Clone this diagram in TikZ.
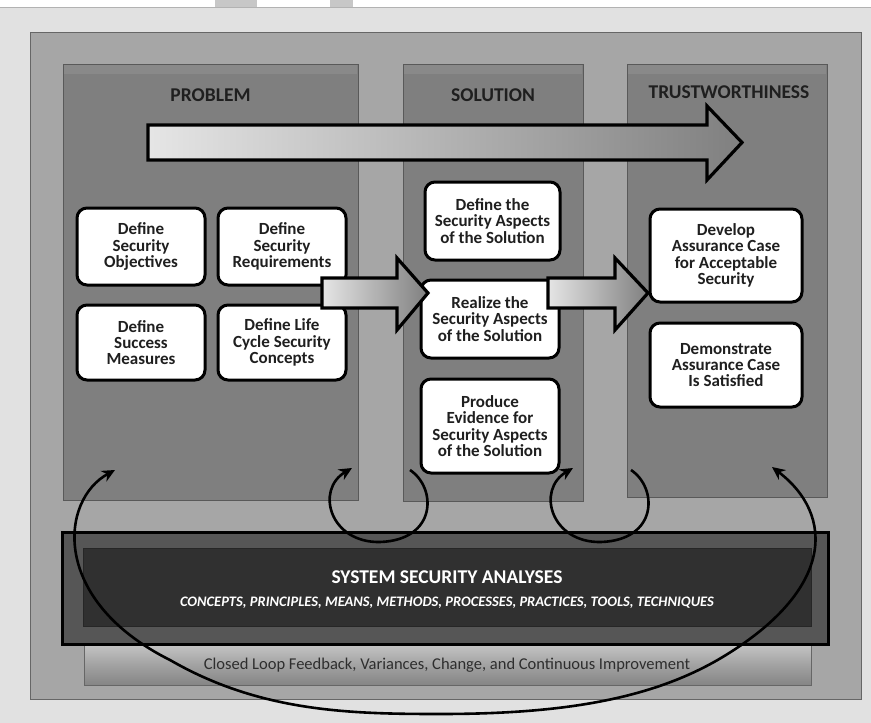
\documentclass[tikz,border=0pt]{standalone}
\usepackage{fontspec}
\setmainfont{Carlito}
\usetikzlibrary{arrows.meta}
\begin{document}
\begin{tikzpicture}[x=1pt,y=-1pt,
  column/.style={fill=colgray, draw=black!65, line width=0.8pt},
  heading/.style={font=\bfseries\fontsize{19.5}{21}\selectfont, text=black!88},
  stepbox/.style={draw=black, line width=3pt, fill=white, rounded corners=10pt,
    align=center, inner sep=1pt, text=black!88,
    font=\bfseries\fontsize{17}{16.3}\selectfont},
  blockarrow/.style={draw=black, line width=3.2pt, line join=miter,
    left color=black!10, right color=black!50},
  loop/.style={draw=black, line width=2.6pt, -{Stealth[length=13pt,width=12pt]}},
  bothloop/.style={draw=black, line width=2.6pt,
    {Stealth[length=13pt,width=12pt]}-{Stealth[length=13pt,width=12pt]}},
]
\definecolor{pagegray}{RGB}{225,225,225}
\definecolor{panelgray}{RGB}{166,166,166}
\definecolor{colgray}{RGB}{127,127,127}
\definecolor{bandgray}{RGB}{86,86,86}
\definecolor{innergray}{RGB}{48,48,48}

\useasboundingbox (0,0) rectangle (871,723);
\fill[pagegray] (0,0) rectangle (871,723);
\fill[white] (0,0) rectangle (871,7);
\draw[black!30, line width=0.8pt] (0,7) -- (871,7);
\fill[black!22] (215,0) rectangle (257,7);
\fill[black!22] (330,0) rectangle (353,7);

% outer panel
\draw[fill=panelgray, draw=black!60, line width=0.8pt] (30,32) rectangle (861,699);

% three columns
\draw[column] (63,64) rectangle (358,500);
\draw[column] (403,64) rectangle (583,501);
\draw[column] (627,64) rectangle (827,497);
\fill[white, opacity=0.08] (64,65) rectangle (357,74);
\fill[white, opacity=0.08] (404,65) rectangle (582,74);
\fill[white, opacity=0.08] (628,65) rectangle (826,74);

\node[heading] (hp) at (210.5,95.5) {PROBLEM};
\node[heading] (hs) at (493,95.5) {SOLUTION};
\node[heading] (ht) at (729,92.5) {TRUSTWORTHINESS};

% main flow arrow across the three columns
\path[blockarrow] (148,125) -- (707,125) -- (707,106) -- (742,142.5)
  -- (707,180) -- (707,160) -- (148,160) -- cycle;

% problem boxes
\node[stepbox, minimum width=128pt, minimum height=77pt] (so) at (141,246.5)
  {Define\\Security\\Objectives};
\node[stepbox, minimum width=128pt, minimum height=77pt] (sr) at (282,246.5)
  {Define\\Security\\Requirements};
\node[stepbox, minimum width=128pt, minimum height=75pt] (sm) at (141,342.5)
  {Define\\Success\\Measures};
\node[stepbox, minimum width=128pt, minimum height=75pt] (lc) at (282,342.5)
  {Define Life\\Cycle Security\\Concepts};

% solution boxes
\node[stepbox, minimum width=135pt, minimum height=78pt] (da) at (492.5,221)
  {Define the\\Security Aspects\\of the Solution};
\node[stepbox, minimum width=138pt, minimum height=78pt] (ra) at (490,319)
  {Realize the\\Security Aspects\\of the Solution};
\node[stepbox, minimum width=138pt, minimum height=94pt] (pe) at (490,426)
  {Produce\\Evidence for\\Security Aspects\\of the Solution};

% trustworthiness boxes
\node[stepbox, minimum width=152pt, minimum height=93pt] (ac) at (726,255.5)
  {Develop\\Assurance Case\\for Acceptable\\Security};
\node[stepbox, minimum width=152pt, minimum height=84pt] (ds) at (726,365)
  {Demonstrate\\Assurance Case\\Is Satisfied};

% block arrows between the stages
\path[blockarrow] (322,278) -- (397,278) -- (397,258) -- (428,293)
  -- (397,330) -- (397,308) -- (322,308) -- cycle;
\path[blockarrow] (548,278) -- (615,278) -- (615,258) -- (648,293)
  -- (615,330) -- (615,308) -- (548,308) -- cycle;

% feedback bar (bevelled)
\draw[draw=black!60, line width=0.8pt, top color=black!22, bottom color=black!48,
  middle color=black!36] (84,643) rectangle (811,685);
\node[font=\fontsize{16.5}{18}\selectfont, text=black!82] (clf) at (447,665)
  {Closed Loop Feedback, Variances, Change, and Continuous Improvement};

% analyses band
\draw[fill=bandgray, draw=black, line width=3pt] (62,532) rectangle (828,644);
\draw[fill=innergray, draw=black!85, line width=0.8pt] (83,548) rectangle (811,626);
\node[font=\bfseries\fontsize{19.5}{21}\selectfont, text=white] (ssa) at (447,577)
  {SYSTEM SECURITY ANALYSES};
\node[font=\bfseries\itshape\fontsize{14.5}{16}\selectfont, text=white] (cpm) at (447,603)
  {CONCEPTS, PRINCIPLES, MEANS, METHODS, PROCESSES, PRACTICES, TOOLS, TECHNIQUES};

% feedback loops
\coordinate (l1s) at (410,470);
\coordinate (l1e) at (352,468);
\coordinate (l2s) at (631,470);
\coordinate (l2e) at (573,468);
\coordinate (gl) at (115,470);
\coordinate (gr) at (772,467);
\draw[loop] (l1s) .. controls (437,488) and (437,540) .. (380,542)
  .. controls (330,543) and (315,490) .. (l1e);
\draw[loop] (l2s) .. controls (658,488) and (658,540) .. (601,542)
  .. controls (551,543) and (536,490) .. (l2e);
\draw[bothloop]
  (gl) .. controls (60,500) and (50,600) .. (170,660)
  .. controls (260,712) and (350,714) .. (440,714)
  .. controls (560,714) and (650,700) .. (721,658)
  .. controls (835,590) and (835,515) .. (gr);
\end{tikzpicture}
\end{document}
